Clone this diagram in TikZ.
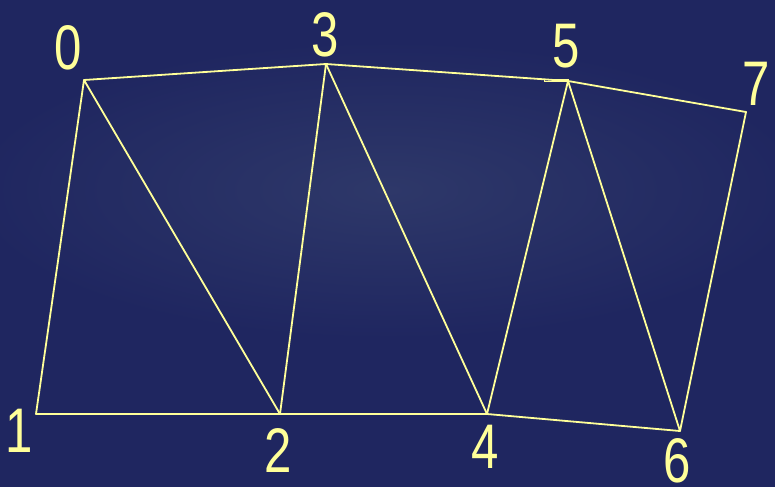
\documentclass[tikz,border=0pt]{standalone}
\usepackage{fontspec}
\setmainfont{Liberation Sans}
\usepackage{tikz}
\usetikzlibrary{positioning,calc}
\definecolor{navy}{HTML}{1F2660}
\definecolor{navylite}{HTML}{2E3869}
\definecolor{stripe}{HTML}{FFFF99}
\tikzset{
  edge/.style={line width=1.8pt,stripe,line join=round},
  vlabel/.style={text=stripe,inner sep=0pt,font=\fontsize{63}{63}\selectfont,xscale=0.78}
}

\begin{document}
\begin{tikzpicture}[x=1pt,y=-1pt]
\useasboundingbox (0,0) rectangle (775,487);
\begin{scope}
\clip (0,0) rectangle (775,487);
\fill[navy] (0,0) rectangle (775,487);
\shade[inner color=navylite,outer color=navy] (388,190) ellipse (420 and 150);
\end{scope}
% strip vertices
\coordinate (v0) at (84,80);
\coordinate (v1) at (36,414);
\coordinate (v2) at (280,414);
\coordinate (v3) at (326,64);
\coordinate (v4) at (487,414);
\coordinate (v5) at (568,81);
\coordinate (v6) at (680,431);
\coordinate (v7) at (746,112);
% labels
\node[vlabel] (l0) at (68,48) {0};
\node[vlabel] (l1) at (19,431) {1};
\node[vlabel] (l2) at (278,450) {2};
\node[vlabel] (l3) at (325,35) {3};
\node[vlabel] (l4) at (485,447) {4};
\node[vlabel] (l5) at (566,46) {5};
\node[vlabel] (l6) at (677,461) {6};
\node[vlabel] (l7) at (756,84) {7};
% triangle strip
\draw[edge] (v0)--(v1)--(v2)--cycle;
\draw[edge] (v0)--(v3)--(v2);
\draw[edge] (v3)--(v4)--(v2);
\draw[edge] (v3)--(v5)--(v4);
\draw[edge] (v5)--(v6)--(v4);
\draw[edge] (v5)--(v7)--(v6);
\draw[stripe,line width=1pt] (544,79) rectangle (v5);
\end{tikzpicture}
\end{document}
